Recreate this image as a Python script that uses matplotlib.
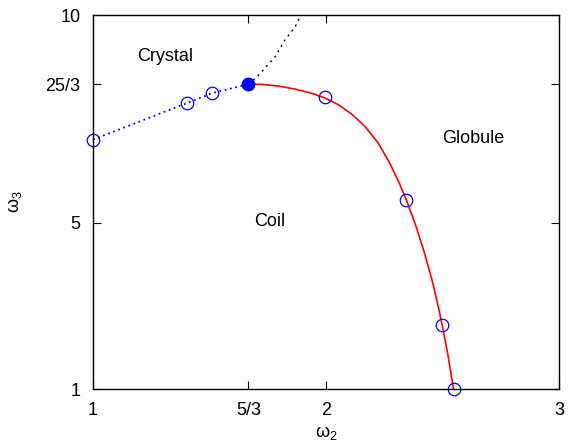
import matplotlib
matplotlib.use('Agg')
import matplotlib.pyplot as plt

plt.rcParams['font.family'] = ['Liberation Sans', 'DejaVu Sans']

# crystal-coil boundary (blue dotted, open circles)
cryst_x = [1.0, 1.403, 1.511, 5/3]
cryst_y = [7.0, 7.88, 8.12, 25/3]

# coil-globule boundary (red line)
glob_x = [5/3, 1.724, 1.795, 1.867, 1.939, 1.996, 2.053, 2.110, 2.167, 2.224,
          2.274, 2.315, 2.345, 2.387, 2.423, 2.455, 2.482, 2.500, 2.522, 2.541, 2.547]
glob_y = [25/3, 8.331, 8.291, 8.218, 8.115, 8.002, 7.841, 7.617, 7.321, 6.919,
          6.431, 5.949, 5.548, 4.905, 4.265, 3.623, 2.980, 2.499, 1.859, 1.217, 1.0]
# simulated points on red line
sim_x = [1.996, 2.343, 2.498, 2.549]
sim_y = [8.03, 5.55, 2.54, 1.0]

# crystal-globule boundary (black dotted)
cg_x = [5/3, 1.712, 1.781, 1.824, 1.867, 1.888]
cg_y = [25/3, 8.56, 8.99, 9.40, 9.71, 9.95]

xticks = [1, 5/3, 2, 3]
xlabels = ['1', '5/3', '2', '3']
yticks = [1, 5, 25/3, 10]
ylabels = ['1', '5', '25/3', '10']

fig = plt.figure(figsize=(5.69, 4.44), dpi=100)
ax = fig.add_axes([93/569, 1-389/444, (559-93)/569, (389-15)/444])

ax.plot(cg_x, cg_y, color='black', linestyle=(0, (1.5, 3)), lw=1.0)
ax.plot(glob_x, glob_y, color='red', lw=1.2, solid_joinstyle='round')
ax.plot(cryst_x, cryst_y, color='blue', linestyle=(0, (1, 2)), lw=1.3,
        marker='o', mfc='none', mec='blue', ms=9, mew=0.9, clip_on=False)
ax.plot(sim_x, sim_y, linestyle='none', marker='o', mfc='none', mec='blue',
        ms=9, mew=0.9, clip_on=False)
ax.plot([5/3], [25/3], marker='o', color='blue', ms=8.5, clip_on=False)

ax.text(1.31, 8.99, 'Crystal', fontsize=13, ha='center', va='center')
ax.text(2.63, 7.02, 'Globule', fontsize=13, ha='center', va='center')
ax.text(1.76, 5.02, 'Coil', fontsize=13, ha='center', va='center')

ax.set_xlim(1, 3)
ax.set_ylim(1, 10)
ax.set_xticks(xticks)
ax.set_xticklabels(xlabels)
ax.set_yticks(yticks)
ax.set_yticklabels(ylabels)
ax.tick_params(direction='in', top=True, right=True, labelsize=13, length=6, pad=9)
ax.set_xlabel(r'$\mathregular{\omega_2}$', fontsize=13)
ax.set_ylabel(r'$\mathregular{\omega_3}$', fontsize=13)
ax.xaxis.set_label_coords(0.5, -0.093)
ax.yaxis.set_label_coords(-0.148, 0.5)
for s in ax.spines.values():
    s.set_linewidth(1.0)

fig.savefig('out.png', dpi=100)
